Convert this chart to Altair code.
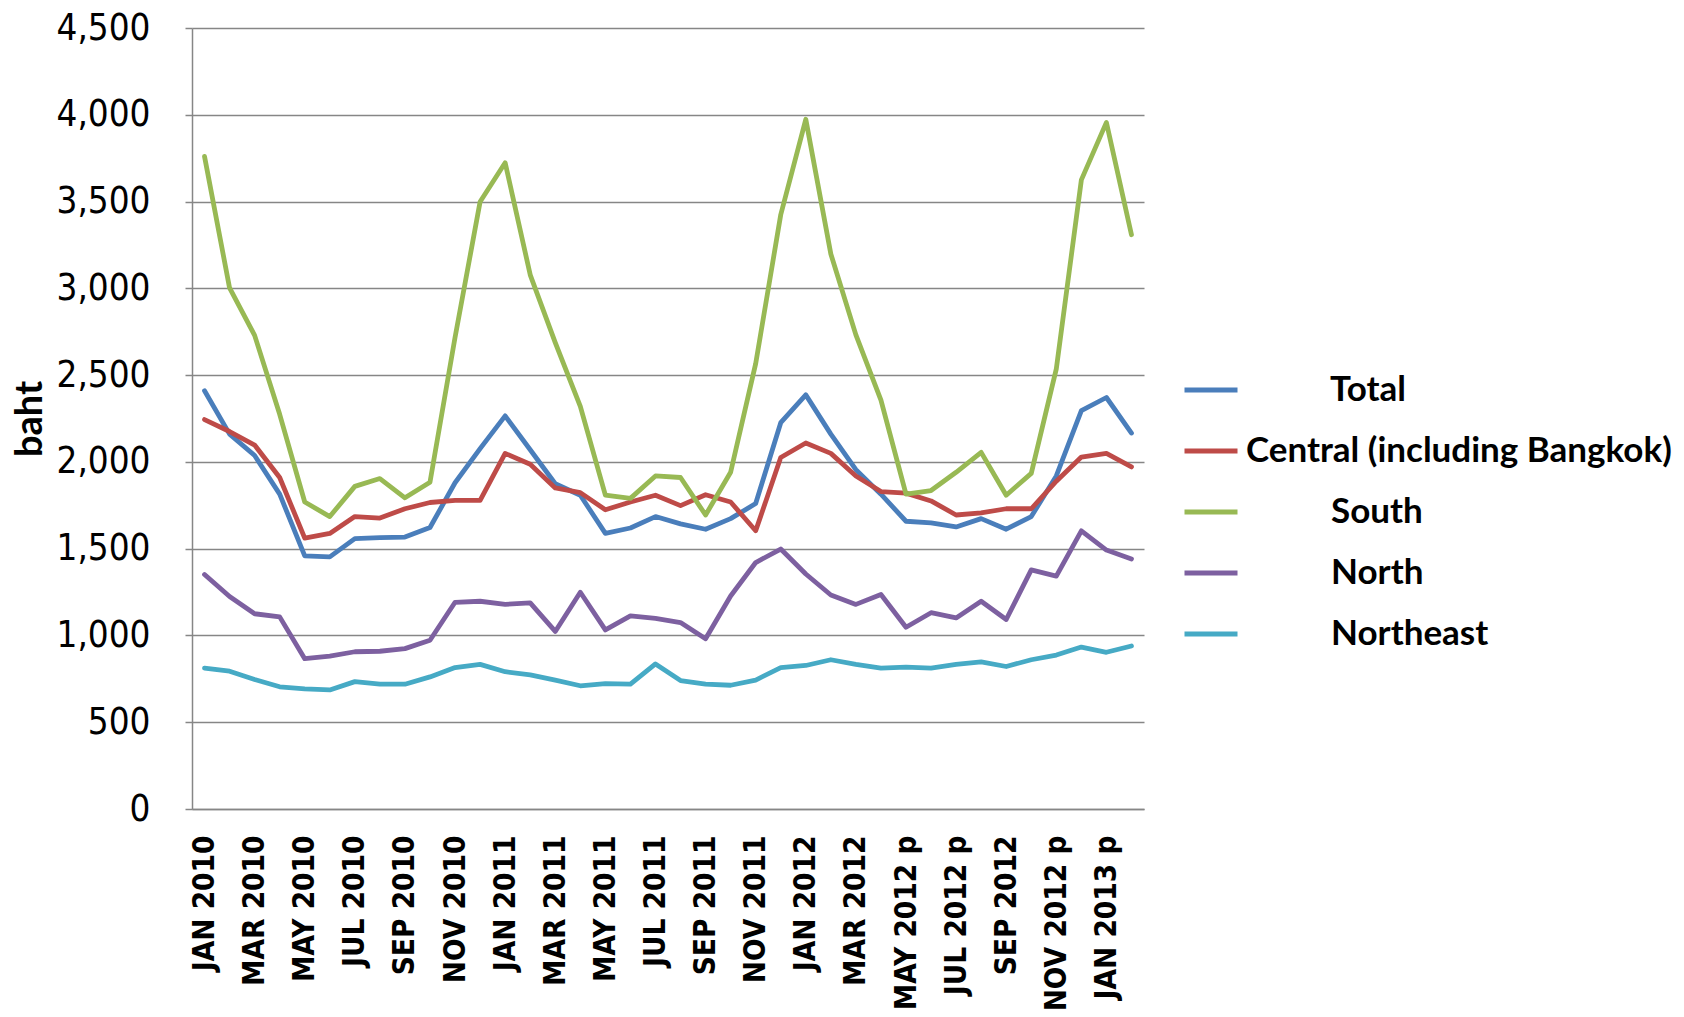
import altair as alt
import pandas as pd

months = [
    "JAN 2010", "FEB 2010", "MAR 2010", "APR 2010", "MAY 2010", "JUN 2010",
    "JUL 2010", "AUG 2010", "SEP 2010", "OCT 2010", "NOV 2010", "DEC 2010",
    "JAN 2011", "FEB 2011", "MAR 2011", "APR 2011", "MAY 2011", "JUN 2011",
    "JUL 2011", "AUG 2011", "SEP 2011", "OCT 2011", "NOV 2011", "DEC 2011",
    "JAN 2012", "FEB 2012", "MAR 2012", "APR 2012", "MAY 2012 p", "JUN 2012 p",
    "JUL 2012 p", "AUG 2012 p", "SEP 2012", "OCT 2012 p", "NOV 2012 p", "DEC 2012 p",
    "JAN 2013 p", "FEB 2013 p",
]

total = [2410, 2160, 2037, 1814, 1459, 1453, 1558, 1564, 1567, 1622, 1880, 2076,
         2265, 2070, 1874, 1808, 1588, 1619, 1685, 1643, 1612, 1673, 1760, 2226,
         2386, 2160, 1955, 1814, 1658, 1649, 1625, 1673, 1612, 1685, 1919, 2295,
         2371, 2166]
central = [2244, 2175, 2097, 1910, 1561, 1588, 1685, 1676, 1730, 1766, 1778, 1778,
           2049, 1986, 1850, 1823, 1724, 1769, 1808, 1748, 1811, 1769, 1603, 2025,
           2109, 2049, 1919, 1829, 1820, 1775, 1694, 1706, 1730, 1730, 1889, 2028,
           2049, 1971]
south = [3760, 3002, 2729, 2274, 1769, 1685, 1859, 1904, 1793, 1883, 2717, 3499,
         3724, 3078, 2687, 2320, 1808, 1790, 1919, 1910, 1694, 1940, 2566, 3424,
         3974, 3198, 2732, 2356, 1814, 1835, 1940, 2055, 1808, 1934, 2536, 3625,
         3956, 3309]
north = [1351, 1224, 1125, 1107, 866, 881, 906, 909, 924, 972, 1191, 1197,
         1179, 1188, 1023, 1249, 1032, 1113, 1098, 1074, 981, 1227, 1420, 1498,
         1354, 1233, 1179, 1236, 1047, 1131, 1101, 1197, 1092, 1378, 1342, 1603,
         1492, 1441]
northeast = [812, 794, 746, 704, 692, 686, 734, 719, 719, 761, 815, 833,
             791, 773, 743, 710, 722, 719, 836, 740, 719, 713, 743, 815,
             827, 860, 833, 812, 818, 812, 833, 848, 821, 860, 887, 933,
             903, 939]

series_names = ["Total", "Central (including Bangkok)", "South", "North", "Northeast"]
series_colors = ["#4A7EBB", "#BE4B48", "#98B954", "#7D60A0", "#46AAC5"]
y_ticks = [0, 500, 1000, 1500, 2000, 2500, 3000, 3500, 4000, 4500]

rows = []
for name, vals in zip(series_names, [total, central, south, north, northeast]):
    for m, v in zip(months, vals):
        rows.append({"month": m, "series": name, "value": v})
df = pd.DataFrame(rows)

grid = "#868686"
pad = "\u200b" + "\u00a0" * 10
cond_font = "DejaVu Sans Condensed, DejaVu Sans"

chart = alt.Chart(df).mark_line(
    strokeWidth=4.8, strokeCap="round", strokeJoin="round"
).encode(
    x=alt.X(
        "month:N", sort=months,
        scale=alt.Scale(type="point", padding=0.5),
        axis=alt.Axis(
            values=months[::2], labelAngle=-90, title=None,
            labelFont=cond_font, labelFontWeight="bold", labelFontSize=29.5,
            labelColor="black", ticks=False, labelPadding=26, labelLimit=400,
            domainColor=grid, domainWidth=1.5, grid=False,
        ),
    ),
    y=alt.Y(
        "value:Q",
        scale=alt.Scale(domain=[0, 4500], nice=False),
        axis=alt.Axis(
            values=y_ticks, format=",.0f", title="baht",
            labelFont=cond_font, labelFontSize=36.5, labelColor="black",
            tickSize=7, tickColor=grid, tickWidth=1.5, labelPadding=35,
            domainColor=grid, domainWidth=1.5,
            grid=True, gridColor=grid, gridWidth=1.5,
            titleFont="Lato", titleFontSize=38, titleFontWeight="bold",
            titleColor="black", titlePadding=7,
        ),
    ),
    color=alt.Color(
        "series:N", sort=series_names,
        scale=alt.Scale(domain=series_names, range=series_colors),
        legend=alt.Legend(
            title=None, orient="none", legendX=990, legendY=333,
            symbolType="stroke", symbolSize=2809, symbolStrokeWidth=5,
            labelFont="Lato", labelFontWeight="bold", labelFontSize=35,
            labelColor="black", labelOffset=6, rowPadding=14, padding=0,
            labelLimit=600,
            labelExpr="datum.label == 'Central (including Bangkok)' ? datum.label : '" + pad + "' + datum.label",
        ),
    ),
).properties(
    width=952, height=781,
    padding={"top": 2, "left": 3, "right": 0, "bottom": 0},
).configure_view(stroke=None)

chart.save("out.html", embed_options={"renderer": "svg", "actions": False})
